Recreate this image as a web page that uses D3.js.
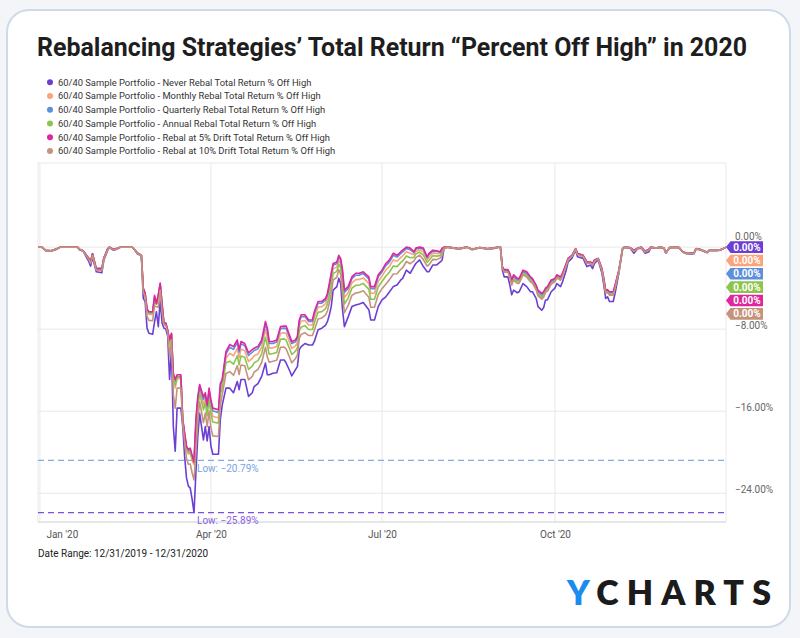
<!DOCTYPE html>
<html><head><meta charset="utf-8">
<script src="https://cdn.jsdelivr.net/npm/d3@7"></script>
<style>
html,body{margin:0;padding:0;background:#f3f5f8;}
svg{display:block;font-family:Roboto,"Noto Sans",sans-serif;}
</style></head><body>
<svg id="chart" width="800" height="638"></svg>
<script>
// ---------------- DATA ----------------
const chartTitle = "Rebalancing Strategies\u2019 Total Return \u201CPercent Off High\u201D in 2020";
const dateRangeText = "Date Range: 12/31/2019 - 12/31/2020";
const startDate = "2019-12-31";
const endDate = "2020-12-31";
const seriesNames = [
  "60/40 Sample Portfolio - Never Rebal Total Return % Off High",
  "60/40 Sample Portfolio - Monthly Rebal Total Return % Off High",
  "60/40 Sample Portfolio - Quarterly Rebal Total Return % Off High",
  "60/40 Sample Portfolio - Annual Rebal Total Return % Off High",
  "60/40 Sample Portfolio - Rebal at 5% Drift Total Return % Off High",
  "60/40 Sample Portfolio - Rebal at 10% Drift Total Return % Off High"
];
const xTickDates = ["2020-01-01","2020-04-01","2020-07-01","2020-10-01"];
const xTickLabels = ["Jan '20","Apr '20","Jul '20","Oct '20"];
const yTickValues = [0,-8,-16,-24];
// day offsets from startDate
const dayOffsets = [
  0,2,4,7,10,12,17,21,22,24,27,28,29,31,34,35,37,38,40,42,44,47,50,51,53,54,
  55,56,57,58,59,61,62,63,64,65,66,67,68,69,70,71,72,73,74,76,77,78,79,80,81,82,83,
  84,85,86,88,89,90,91,92,93,96,97,98,100,
  102,104,106,107,108,110,112,114,115,117,
  119,121,122,123,125,127,129,131,132,134,
  135,137,138,139,140,142,144,146,147,149,
  151,153,154,155,156,157,159,160,161,162,
  163,165,167,169,171,173,176,177,179,181,
  183,185,187,189,191,193,194,196,198,200,
  201,203,205,207,208,210,212,214,215,216,
  218,
  224,228,231,235,239,242,245,246,247,248,
  250,251,252,253,255,256,258,260,262,263,
  265,266,268,269,270,271,273,275,276,278,
  279,281,282,284,286,287,290,292,294,295,
  296,298,300,301,302,303,304,306,307,309,
  311,312,315,317,319,321,323,325,326,329,
  331,333,334,336,339,341,343,345,347,349,
  350,352,356,357,361,363,365,366
];
const neverRebal = [
  0,0,-0.35,-0.4,-0.2,0,0,0,-0.25,-0.4,-1.4,-1.85,-1.0,-2.4,-2.5,-1.3,-0.35,-0.05,-0.3,-0.2,0,0,0,-0.15,-0.7,-0.75,
  -0.85,-5.0,-5.3,-7.9,-8.4,-8.5,-7.3,-6.3,-7.75,-5.2,-7.4,-7.9,-8.0,-8.7,-12.9,-10.0,-17.5,-19.9,-15.7,-15.7,-17.5,-20.4,-22.5,-23.3,-23.5,-24.6,-25.89,
  -22.0,-18.45,-16.2,-18.8,-17.5,-18.9,-17.5,-19.4,-20.2,-20.2,-16.8,-15.4,-13.75,
  -13.75,-14.2,-13.1,-13.9,-12.9,-12.9,-14.55,-14.2,-13.6,-13.3,
  -12.6,-11.3,-12.45,-12.45,-12.3,-12.25,-11.0,-11.0,-11.3,-12.1,
  -12.55,-11.95,-11.65,-10.0,-9.7,-9.4,-9.55,-9.55,-9.2,-8.05,
  -7.9,-7.6,-7.25,-6.6,-5.8,-4.2,-3.85,-3.05,-3.55,-6.1,
  -7.75,-6.8,-5.8,-5.65,-5.55,-5.4,-6.1,-7.1,-7.1,-5.8,
  -5.15,-4.85,-4.35,-3.85,-3.7,-3.2,-3.05,-2.25,-2.55,-1.9,
  -1.6,-1.25,-1.9,-2.4,-2.4,-1.75,-1.75,-1.45,-1.25,-0.15,
  0,
  -0.2,0,-0.25,-0.05,-0.2,-0.15,0,0,-2.2,-2.9,
  -2.9,-3.7,-4.65,-4.2,-4.45,-4.35,-3.55,-3.85,-4.35,-4.35,
  -5.0,-5.8,-6.15,-5.9,-5.15,-5.15,-4.35,-4.0,-3.55,-3.85,
  -3.4,-2.25,-1.45,-1.1,-0.3,-0.95,-1.1,-1.9,-1.75,-2.1,
  -1.6,-1.25,-2.55,-3.7,-5.0,-4.85,-5.3,-5.3,-4.5,-2.55,
  -0.15,0,-0.1,-0.6,-0.15,-0.1,-0.6,-0.45,-0.1,-0.1,
  0,-0.1,-0.6,-0.05,0,-0.05,-0.5,-0.65,-0.7,-0.65,
  -0.2,-0.25,-0.55,-0.35,-0.35,-0.3,-0.1,0
];
const monthlyRebal = [
  0,0,-0.3,-0.35,-0.15,0,0,0,-0.2,-0.35,-1.1,-1.4,-0.65,-2.1,-2.1,-1.1,-0.2,0,-0.2,-0.15,0,0,0,-0.15,-0.6,-0.7,
  -0.81,-4.12,-4.6,-6.23,-6.55,-6.56,-5.01,-5.6,-4.98,-3.7,-5.73,-7.46,-7.47,-8.17,-9.51,-8.59,-12.92,-13.74,-12.84,-12.84,-16.88,-18.38,-19.77,-20.18,-20.07,-20.82,-21.2,
  -17.74,-15.29,-13.9,-15.36,-14.79,-16.03,-14.43,-15.71,-16.51,-16.63,-13.93,-13.35,-10.84,
  -10.35,-10.6,-9.86,-10.78,-9.94,-10.1,-11.15,-10.84,-10.6,-10.42,
  -9.76,-8.06,-8.81,-9.85,-9.82,-9.69,-8.4,-8.36,-8.42,-9.38,
  -9.87,-9.63,-9.29,-7.68,-7.22,-7.16,-7.59,-7.59,-6.88,-5.85,
  -5.82,-5.52,-5.05,-4.16,-3.2,-2.12,-1.93,-1.25,-1.59,-3.02,
  -4.91,-4.44,-3.48,-3.17,-3.15,-3.0,-3.54,-4.5,-4.5,-3.32,
  -2.83,-2.25,-1.87,-1.25,-1.38,-1.0,-0.85,-0.45,-0.59,-0.74,
  -0.4,-0.25,-0.46,-1.24,-0.96,-0.59,-0.63,-0.65,-0.33,-0.03,
  0,
  -0.16,0,-0.21,-0.05,-0.16,-0.11,0,0,-1.95,-2.31,
  -2.31,-2.72,-3.42,-2.93,-3.26,-3.25,-2.45,-2.62,-3.12,-3.25,
  -3.9,-4.44,-4.75,-4.58,-4.17,-4.05,-3.37,-3.19,-2.83,-3.04,
  -2.68,-1.7,-1.15,-0.85,-0.17,-0.65,-0.85,-1.52,-1.5,-1.68,
  -1.3,-1.12,-2.17,-3.15,-4.32,-4.26,-4.49,-4.49,-3.82,-2.3,
  -0.15,0,-0.06,-0.35,-0.11,-0.02,-0.43,-0.24,-0.02,-0.1,
  0,-0.1,-0.56,-0.05,0,-0.05,-0.46,-0.61,-0.62,-0.57,
  -0.16,-0.21,-0.51,-0.31,-0.31,-0.26,-0.1,0
];
const quarterlyRebal = [
  0,0,-0.3,-0.35,-0.15,0,0,0,-0.2,-0.35,-1.1,-1.4,-0.65,-2.1,-2.1,-1.1,-0.2,0,-0.2,-0.15,0,0,0,-0.15,-0.6,-0.7,
  -0.8,-4.05,-4.54,-6.1,-6.4,-6.41,-4.83,-5.54,-4.76,-3.59,-5.6,-7.43,-7.43,-8.13,-9.24,-8.48,-12.56,-13.25,-12.61,-12.61,-16.84,-18.22,-19.56,-19.93,-19.8,-20.52,-20.79,
  -17.11,-14.83,-13.57,-14.85,-14.4,-15.61,-13.98,-15.17,-15.97,-16.11,-13.51,-13.05,-10.41,
  -9.76,-9.97,-9.29,-10.23,-9.42,-9.61,-10.56,-10.25,-10.08,-9.92,
  -9.26,-7.49,-8.17,-9.4,-9.39,-9.24,-7.95,-7.9,-7.92,-8.9,
  -9.4,-9.22,-8.88,-7.27,-6.79,-6.77,-7.25,-7.25,-6.47,-5.47,
  -5.46,-5.16,-4.67,-3.73,-2.75,-1.76,-1.59,-0.94,-1.25,-2.48,
  -4.41,-4.03,-3.07,-2.74,-2.73,-2.58,-3.09,-4.05,-4.05,-2.89,
  -2.42,-1.8,-1.44,-0.8,-0.97,-0.62,-0.47,-0.14,-0.25,-0.54,
  -0.19,-0.08,-0.21,-1.04,-0.71,-0.39,-0.43,-0.51,-0.17,-0.01,
  0,
  -0.16,0,-0.2,-0.05,-0.16,-0.1,0,0,-1.93,-2.27,
  -2.27,-2.67,-3.35,-2.85,-3.19,-3.18,-2.38,-2.55,-3.05,-3.18,
  -3.83,-4.36,-4.67,-4.51,-4.12,-3.98,-3.32,-3.15,-2.79,-3.0,
  -2.64,-1.67,-1.14,-0.83,-0.17,-0.64,-0.83,-1.5,-1.48,-1.65,
  -1.29,-1.12,-2.15,-3.12,-4.28,-4.22,-4.45,-4.45,-3.78,-2.28,
  -0.15,0,-0.06,-0.33,-0.11,-0.01,-0.42,-0.23,-0.01,-0.1,
  0,-0.1,-0.56,-0.05,0,-0.05,-0.46,-0.61,-0.61,-0.56,
  -0.16,-0.2,-0.5,-0.3,-0.3,-0.25,-0.1,0
];
const annualRebal = [
  0,0,-0.3,-0.35,-0.15,0,0,0,-0.2,-0.35,-1.1,-1.4,-0.65,-2.1,-2.1,-1.1,-0.2,0,-0.2,-0.15,0,0,0,-0.15,-0.6,-0.7,
  -0.8,-4.08,-4.56,-6.15,-6.47,-6.48,-4.91,-5.56,-4.85,-3.64,-5.65,-7.44,-7.45,-8.15,-9.36,-8.53,-12.72,-13.46,-12.71,-12.71,-16.86,-18.28,-19.65,-20.03,-19.91,-20.64,-21.05,
  -18.36,-15.76,-14.24,-15.86,-15.19,-16.45,-14.88,-16.25,-17.05,-17.16,-14.35,-13.65,-11.27,
  -11.12,-11.41,-10.59,-11.48,-10.61,-10.73,-11.92,-11.6,-11.28,-11.07,
  -10.4,-8.79,-9.63,-10.44,-10.38,-10.27,-8.99,-8.95,-9.07,-9.99,
  -10.47,-10.15,-9.82,-8.2,-7.78,-7.66,-8.03,-8.03,-7.4,-6.35,
  -6.29,-5.99,-5.55,-4.71,-3.79,-2.59,-2.36,-1.66,-2.03,-3.71,
  -5.55,-4.97,-4.0,-3.73,-3.69,-3.54,-4.12,-5.09,-5.09,-3.88,
  -3.35,-2.84,-2.43,-1.84,-1.9,-1.5,-1.35,-0.86,-1.03,-1.0,
  -0.67,-0.48,-0.78,-1.5,-1.28,-0.85,-0.88,-0.83,-0.54,-0.06,
  0,
  -0.16,0,-0.21,-0.05,-0.16,-0.11,0,0,-1.98,-2.38,
  -2.38,-2.84,-3.56,-3.08,-3.4,-3.38,-2.58,-2.76,-3.26,-3.38,
  -4.03,-4.6,-4.91,-4.74,-4.29,-4.18,-3.49,-3.29,-2.91,-3.14,
  -2.76,-1.76,-1.19,-0.88,-0.19,-0.69,-0.88,-1.56,-1.53,-1.73,
  -1.34,-1.14,-2.21,-3.21,-4.4,-4.33,-4.59,-4.59,-3.9,-2.33,
  -0.15,0,-0.06,-0.38,-0.11,-0.03,-0.45,-0.26,-0.03,-0.1,
  0,-0.1,-0.56,-0.05,0,-0.05,-0.46,-0.61,-0.63,-0.58,
  -0.16,-0.21,-0.51,-0.31,-0.31,-0.26,-0.1,0
];
const drift5Rebal = [
  0,0,-0.3,-0.35,-0.15,0,0,0,-0.2,-0.35,-1.1,-1.4,-0.65,-2.1,-2.1,-1.1,-0.2,0,-0.2,-0.15,0,0,0,-0.15,-0.6,-0.7,
  -0.8,-4.0,-4.5,-6.0,-6.3,-6.3,-4.7,-5.5,-4.6,-3.5,-5.5,-7.4,-7.4,-8.1,-9.05,-8.4,-12.3,-12.9,-12.45,-12.45,-16.8,-18.1,-19.4,-19.75,-19.6,-20.3,-20.95,
  -16.8,-14.6,-13.4,-14.6,-14.2,-15.4,-13.75,-14.9,-15.7,-15.85,-13.3,-12.9,-10.2,
  -9.5,-9.7,-9.05,-10.0,-9.2,-9.4,-10.3,-10.0,-9.85,-9.7,
  -9.05,-7.25,-7.9,-9.2,-9.2,-9.05,-7.75,-7.7,-7.7,-8.7,
  -9.2,-9.05,-8.7,-7.1,-6.6,-6.6,-7.1,-7.1,-6.3,-5.3,
  -5.3,-5.0,-4.5,-3.55,-2.55,-1.6,-1.45,-0.8,-1.1,-2.25,
  -4.2,-3.85,-2.9,-2.55,-2.55,-2.4,-2.9,-3.85,-3.85,-2.7,
  -2.25,-1.6,-1.25,-0.6,-0.8,-0.45,-0.3,0,-0.1,-0.45,
  -0.1,0,-0.1,-0.95,-0.6,-0.3,-0.35,-0.45,-0.1,0,
  0,
  -0.15,0,-0.2,-0.05,-0.15,-0.1,0,0,-1.9,-2.2,
  -2.2,-2.55,-3.2,-2.7,-3.05,-3.05,-2.25,-2.4,-2.9,-3.05,
  -3.7,-4.2,-4.5,-4.35,-4.0,-3.85,-3.2,-3.05,-2.7,-2.9,
  -2.55,-1.6,-1.1,-0.8,-0.15,-0.6,-0.8,-1.45,-1.45,-1.6,
  -1.25,-1.1,-2.1,-3.05,-4.2,-4.15,-4.35,-4.35,-3.7,-2.25,
  -0.15,0,-0.05,-0.3,-0.1,0,-0.4,-0.2,0,-0.1,
  0,-0.1,-0.55,-0.05,0,-0.05,-0.45,-0.6,-0.6,-0.55,
  -0.15,-0.2,-0.5,-0.3,-0.3,-0.25,-0.1,0
];
const drift10Rebal = [
  0,0,-0.32,-0.37,-0.17,0,0,0,-0.22,-0.37,-1.2,-1.6,-0.8,-2.25,-2.3,-1.2,-0.27,-0.02,-0.25,-0.17,0,0,0,-0.15,-0.65,-0.72,
  -0.82,-4.4,-4.82,-6.76,-7.14,-7.18,-5.74,-5.82,-5.86,-4.18,-6.26,-7.6,-7.64,-8.34,-10.59,-9.04,-14.38,-15.7,-13.75,-13.75,-17.08,-19.02,-20.64,-21.17,-21.16,-22.02,-22.7,
  -19.92,-16.91,-15.08,-17.12,-16.18,-17.5,-16.0,-17.6,-18.4,-18.46,-15.4,-14.4,-12.33,
  -12.14,-12.49,-11.56,-12.42,-11.49,-11.57,-12.94,-12.6,-12.18,-11.93,
  -11.25,-9.76,-10.72,-11.22,-11.12,-11.03,-9.77,-9.75,-9.93,-10.81,
  -11.28,-10.85,-10.53,-8.9,-8.52,-8.34,-8.62,-8.62,-8.1,-7.01,
  -6.91,-6.61,-6.21,-5.44,-4.57,-3.21,-2.94,-2.2,-2.62,-4.64,
  -6.4,-5.68,-4.7,-4.47,-4.41,-4.26,-4.88,-5.87,-5.87,-4.62,
  -4.05,-3.62,-3.17,-2.62,-2.6,-2.16,-2.01,-1.4,-1.62,-1.35,
  -1.03,-0.78,-1.22,-1.85,-1.72,-1.2,-1.22,-1.07,-0.81,-0.09,
  0,
  -0.17,0,-0.22,-0.05,-0.17,-0.12,0,0,-2.01,-2.45,
  -2.45,-2.95,-3.71,-3.23,-3.54,-3.51,-2.71,-2.91,-3.41,-3.51,
  -4.16,-4.76,-5.08,-4.89,-4.4,-4.31,-3.6,-3.38,-3.0,-3.23,
  -2.85,-1.83,-1.22,-0.91,-0.2,-0.72,-0.91,-1.61,-1.56,-1.78,
  -1.37,-1.15,-2.26,-3.28,-4.48,-4.4,-4.68,-4.68,-3.98,-2.36,
  -0.15,0,-0.07,-0.41,-0.12,-0.04,-0.47,-0.29,-0.04,-0.1,
  0,-0.1,-0.57,-0.05,0,-0.05,-0.47,-0.62,-0.64,-0.59,
  -0.17,-0.22,-0.52,-0.32,-0.32,-0.27,-0.1,0
];
const seriesValues = [neverRebal, monthlyRebal, quarterlyRebal, annualRebal, drift5Rebal, drift10Rebal];
// series whose lows are annotated (indices into seriesNames)
const lowAnnotated = [2, 0];

// ---------------- STYLE ----------------
const colors = ["#6b3fd4","#fba37c","#5c8fdc","#8ec44d","#e0259d","#c4937b"];
const lowLineColors = {0:"#7a4fe2", 2:"#82aae6"};
const lowTextColors = {0:"#8a62e4", 2:"#79a3e3"};
const plot = {left:38, right:726, top:163, bottom:522};

// ---------------- BUILD ----------------
const parse = d3.utcParse("%Y-%m-%d");
const t0 = parse(startDate);
const dates = dayOffsets.map(d => d3.utcDay.offset(t0, d));
const series = seriesNames.map((name, i) => ({
  name, color: colors[i],
  values: dates.map((dt, j) => ({date: dt, v: seriesValues[i][j]})).filter(p => p.v !== undefined)
}));

const x = d3.scaleUtc().domain([t0, parse(endDate)]).range([plot.left, plot.right]);
const y = d3.scaleLinear().domain([-26.8, 8.2]).range([plot.bottom, plot.top]);

const svg = d3.select("#chart");
// card
svg.append("rect").attr("x",7).attr("y",10).attr("width",783).attr("height",617).attr("rx",22)
  .attr("fill","#fff").attr("stroke","#cfdae8").attr("stroke-width",2);

// title
svg.append("text").attr("x",37).attr("y",56).text(chartTitle)
  .attr("font-size",25).attr("font-weight",700).attr("fill","#1e1e1e")
  .attr("textLength",710).attr("lengthAdjust","spacingAndGlyphs");

// legend
const leg = svg.append("g");
seriesNames.forEach((n, i) => {
  const cy = 82.3 + i*13.75;
  leg.append("circle").attr("cx",50).attr("cy",cy).attr("r",3).attr("fill",colors[i]);
  leg.append("text").attr("x",58).attr("y",cy+3.4).text(n).attr("font-size",9.4).attr("fill","#333");
});

// plot frame & grid
const g = svg.append("g");
g.append("rect").attr("x",plot.left).attr("y",plot.top).attr("width",plot.right-plot.left).attr("height",plot.bottom-plot.top)
  .attr("fill","none").attr("stroke","#e9e9e9").attr("stroke-width",1);
yTickValues.forEach(v => {
  g.append("line").attr("x1",plot.left).attr("x2",plot.right).attr("y1",y(v)).attr("y2",y(v))
    .attr("stroke","#e8e8e8").attr("stroke-width",1);
});
xTickDates.forEach(d => {
  const xx = x(parse(d));
  g.append("line").attr("x1",xx).attr("x2",xx).attr("y1",plot.top).attr("y2",plot.bottom)
    .attr("stroke","#e8e8e8").attr("stroke-width",1);
});
g.append("line").attr("x1",plot.left).attr("x2",plot.right).attr("y1",plot.bottom).attr("y2",plot.bottom)
  .attr("stroke","#d8d8d8");

// x axis labels
const xAxis = d3.axisBottom(x).tickValues(xTickDates.map(parse)).tickFormat((d,i)=>xTickLabels[i]).tickSize(0).tickPadding(9);
const xa = svg.append("g").attr("transform",`translate(0,${plot.bottom})`).call(xAxis);
xa.select(".domain").remove();
xa.selectAll("text").attr("font-size",10).attr("fill","#555").attr("font-family","Roboto, sans-serif");
xa.selectAll(".tick").filter((d,i)=>i===0).select("text").attr("text-anchor","start").attr("x",6);

// y axis labels (right)
const yAxis = d3.axisRight(y).tickValues(yTickValues).tickFormat(d => d3.format(".2f")(d) + "%").tickSize(0).tickPadding(0);
const ya = svg.append("g").attr("transform",`translate(${plot.right+9},0)`).call(yAxis);
ya.select(".domain").remove();
ya.selectAll("text").attr("font-size",10).attr("fill","#666").attr("dy","-0.1em").attr("font-family","Roboto, sans-serif");
// zero label sits just above the end tags
ya.selectAll(".tick").filter(d => d === 0).select("text").attr("dy","-0.72em");

// clip
svg.append("defs").append("clipPath").attr("id","clip").append("rect")
  .attr("x",plot.left).attr("y",plot.top).attr("width",plot.right-plot.left+1).attr("height",plot.bottom-plot.top);

// low lines
const fmt2 = d3.format(".2f");
lowAnnotated.forEach(i => {
  const vals = series[i].values;
  const minP = vals.reduce((a,b)=> b.v < a.v ? b : a);
  const yy = y(minP.v);
  svg.append("line").attr("x1",plot.left).attr("x2",plot.right).attr("y1",yy).attr("y2",yy)
    .attr("stroke",lowLineColors[i]).attr("stroke-width",1.3).attr("stroke-dasharray","6,4");
  svg.append("text").attr("x",x(minP.date)+3).attr("y",yy+11.5).text("Low: " + fmt2(minP.v) + "%")
    .attr("font-size",10).attr("fill",lowTextColors[i]);
});

// lines
const line = d3.line().x(d=>x(d.date)).y(d=>y(d.v));
const lg = svg.append("g").attr("clip-path","url(#clip)");
series.forEach(s => {
  lg.append("path").attr("d",line(s.values)).attr("fill","none").attr("stroke",s.color)
    .attr("stroke-width",1.6).attr("stroke-linejoin","round");
});

// end tags
series.forEach((s, i) => {
  const cy = y(0) + i*13.35;
  const last = s.values[s.values.length-1].v;
  const tip = plot.right, hh = 5.8;
  svg.append("path").attr("d",`M${tip},${cy} L${tip+4.5},${cy-hh} L${tip+37},${cy-hh} L${tip+37},${cy+hh} L${tip+4.5},${cy+hh} Z`)
    .attr("fill",s.color);
  svg.append("text").attr("x",tip+21).attr("y",cy+3.6).attr("text-anchor","middle")
    .text(fmt2(Math.abs(last) < 0.005 ? 0 : last) + "%").attr("font-size",10).attr("font-weight",700).attr("fill","#fff");
});

// date range
svg.append("text").attr("x",38).attr("y",557).text(dateRangeText).attr("font-size",10).attr("fill","#222");

// logo
const logo = svg.append("text").attr("x",567).attr("y",605).attr("font-size",34).attr("font-weight",800)
  .attr("font-family","Lato, 'DejaVu Sans', sans-serif").attr("textLength",204).attr("lengthAdjust","spacing");
logo.append("tspan").attr("fill","#1a8cf0").text("Y");
logo.append("tspan").attr("fill","#1b1b1b").text("CHARTS");
</script></body></html>
